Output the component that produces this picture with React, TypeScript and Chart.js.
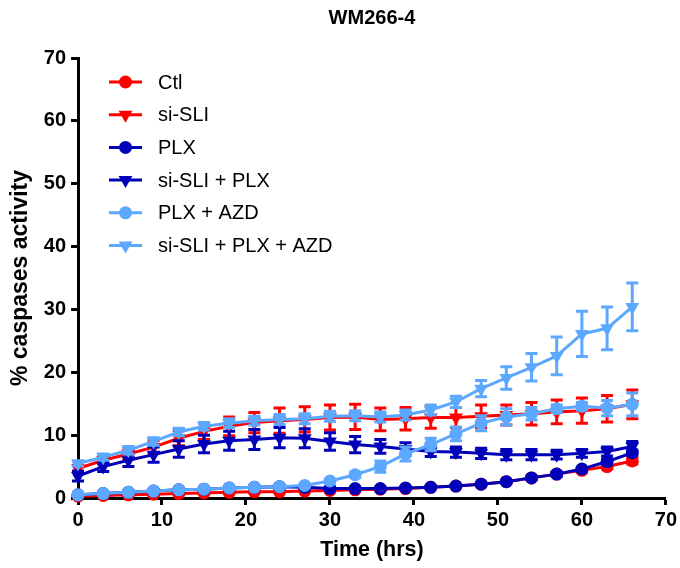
import React, { useEffect, useRef } from "react";
import { Chart, registerables } from "chart.js";

Chart.register(...registerables);

const hours = [0, 3, 6, 9, 12, 15, 18, 21, 24, 27, 30, 33, 36, 39, 42, 45, 48, 51, 54, 57, 60, 63, 66];

const ctl = [0.3, 0.4, 0.5, 0.6, 0.7, 0.8, 0.9, 1.0, 1.0, 1.1, 1.2, 1.3, 1.4, 1.5, 1.7, 1.9, 2.2, 2.6, 3.2, 3.8, 4.4, 5.0, 5.9];
const ctlErr = [0.1, 0.1, 0.1, 0.1, 0.1, 0.1, 0.1, 0.1, 0.1, 0.1, 0.1, 0.1, 0.1, 0.1, 0.1, 0.2, 0.2, 0.2, 0.2, 0.3, 0.3, 0.4, 0.5];

const siSli = [4.7, 6.0, 7.0, 8.1, 9.5, 10.6, 11.4, 12.0, 12.3, 12.5, 12.8, 12.9, 12.5, 12.6, 12.8, 12.8, 13.0, 13.2, 13.4, 13.7, 13.9, 14.2, 14.9];
const siSliErr = [0.5, 0.6, 0.8, 1.0, 1.2, 1.3, 1.5, 1.6, 2.0, 2.0, 2.0, 2.0, 1.8, 1.8, 1.7, 1.6, 1.8, 1.6, 1.8, 1.9, 2.0, 2.1, 2.3];

const plx = [0.5, 0.7, 0.9, 1.1, 1.3, 1.4, 1.6, 1.7, 1.8, 1.7, 1.5, 1.5, 1.5, 1.6, 1.7, 1.9, 2.2, 2.6, 3.2, 3.8, 4.6, 5.8, 7.2];
const plxErr = [0.2, 0.2, 0.2, 0.2, 0.2, 0.2, 0.2, 0.2, 0.2, 0.2, 0.2, 0.2, 0.2, 0.2, 0.2, 0.2, 0.2, 0.2, 0.3, 0.3, 0.3, 0.4, 0.4];

const siSliPlx = [3.5, 5.0, 6.0, 6.9, 7.8, 8.6, 9.1, 9.3, 9.6, 9.5, 9.0, 8.5, 8.2, 7.8, 7.4, 7.3, 7.1, 6.9, 6.9, 6.9, 7.1, 7.4, 8.2];
const siSliPlxErr = [0.8, 0.8, 1.0, 1.2, 1.3, 1.4, 1.5, 1.6, 1.6, 1.5, 1.4, 1.3, 1.1, 1.0, 0.8, 0.8, 0.8, 0.8, 0.8, 0.7, 0.6, 0.7, 0.8];

const plxAzd = [0.5, 0.7, 0.9, 1.1, 1.3, 1.4, 1.6, 1.7, 1.8, 2.0, 2.7, 3.7, 5.0, 7.0, 8.5, 10.2, 11.9, 12.9, 13.4, 14.2, 14.6, 14.3, 14.9];
const plxAzdErr = [0.1, 0.1, 0.1, 0.1, 0.1, 0.1, 0.1, 0.1, 0.1, 0.2, 0.3, 0.4, 0.9, 1.1, 1.0, 1.1, 1.2, 1.3, 1.0, 0.6, 0.6, 1.2, 1.8];

const siSliPlxAzd = [5.5, 6.5, 7.6, 9.0, 10.5, 11.4, 11.9, 12.3, 12.5, 12.6, 13.0, 13.1, 12.9, 13.2, 14.0, 15.3, 17.4, 19.1, 20.8, 22.6, 26.1, 27.0, 30.4];
const siSliPlxAzdErr = [0.4, 0.5, 0.6, 0.6, 0.6, 0.6, 0.7, 0.7, 0.8, 0.8, 0.8, 0.8, 0.8, 0.8, 0.8, 0.9, 1.3, 1.8, 2.2, 3.0, 3.6, 3.4, 3.8];

const seriesNames = ["Ctl", "si-SLI", "PLX", "si-SLI + PLX", "PLX + AZD", "si-SLI + PLX + AZD"];
const seriesValues = [ctl, siSli, plx, siSliPlx, plxAzd, siSliPlxAzd];
const seriesErrors = [ctlErr, siSliErr, plxErr, siSliPlxErr, plxAzdErr, siSliPlxAzdErr];
const seriesColors = ["#FF0000", "#FF0000", "#0000B8", "#0000B8", "#5CA8FF", "#5CA8FF"];
const seriesMarkers = ["circle", "triangle", "circle", "triangle", "circle", "triangle"];

const xTicks = [0, 10, 20, 30, 40, 50, 60, 70];
const yTicks = [0, 10, 20, 30, 40, 50, 60, 70];

const FONT = "'Liberation Sans', Arial, Helvetica, sans-serif";

function drawMarker(ctx: CanvasRenderingContext2D, kind: string, x: number, y: number, r: number) {
  ctx.beginPath();
  if (kind === "circle") {
    ctx.arc(x, y, r, 0, Math.PI * 2);
  } else {
    let rad = Math.PI;
    ctx.moveTo(x + Math.sin(rad) * r, y - Math.cos(rad) * r);
    rad += (2 * Math.PI) / 3;
    ctx.lineTo(x + Math.sin(rad) * r, y - Math.cos(rad) * r);
    rad += (2 * Math.PI) / 3;
    ctx.lineTo(x + Math.sin(rad) * r, y - Math.cos(rad) * r);
    ctx.closePath();
  }
  ctx.fill();
}

export default function App() {
  const ref = useRef<HTMLCanvasElement>(null);

  useEffect(() => {
    if (!ref.current) return;

    const errorBars = {
      id: "errorBars",
      beforeDatasetDraw(chart: any, args: any) {
        const ds = chart.data.datasets[args.index];
        const errs: number[] = ds.errors;
        if (!errs) return;
        const ctx = chart.ctx as CanvasRenderingContext2D;
        const xs = chart.scales.x;
        const ys = chart.scales.y;
        ctx.save();
        ctx.strokeStyle = ds.borderColor;
        ctx.lineWidth = 3;
        ds.data.forEach((p: any, i: number) => {
          const e = errs[i];
          if (!e) return;
          const px = xs.getPixelForValue(p.x);
          const top = ys.getPixelForValue(p.y + e);
          const bot = ys.getPixelForValue(p.y - e);
          ctx.beginPath();
          ctx.moveTo(px, top);
          ctx.lineTo(px, bot);
          ctx.moveTo(px - 6, top);
          ctx.lineTo(px + 6, top);
          ctx.moveTo(px - 6, bot);
          ctx.lineTo(px + 6, bot);
          ctx.stroke();
        });
        ctx.restore();
      },
    };

    const customLegend = {
      id: "customLegend",
      afterDraw(chart: any) {
        const ctx = chart.ctx as CanvasRenderingContext2D;
        ctx.save();
        seriesNames.forEach((name, i) => {
          const y = 82 + i * 32.7;
          ctx.strokeStyle = seriesColors[i];
          ctx.fillStyle = seriesColors[i];
          ctx.lineWidth = 3;
          ctx.beginPath();
          ctx.moveTo(109, y);
          ctx.lineTo(142, y);
          ctx.stroke();
          drawMarker(ctx, seriesMarkers[i], 125.5, y, seriesMarkers[i] === "circle" ? 6.5 : 8);
          ctx.fillStyle = "#000";
          ctx.font = `20px ${FONT}`;
          ctx.textBaseline = "middle";
          ctx.textAlign = "left";
          ctx.fillText(name, 158, y + 1);
        });
        ctx.restore();
      },
    };

    const n = seriesNames.length;
    const datasets = seriesNames.map((name, i) => ({
      label: name,
      data: hours.map((h, j) => ({ x: h, y: seriesValues[i][j] })),
      errors: seriesErrors[i],
      borderColor: seriesColors[i],
      backgroundColor: seriesColors[i],
      borderWidth: 3,
      pointStyle: seriesMarkers[i],
      pointRotation: seriesMarkers[i] === "triangle" ? 180 : 0,
      pointRadius: seriesMarkers[i] === "circle" ? 6.5 : 8,
      pointBorderWidth: 0,
      pointBackgroundColor: seriesColors[i],
      tension: 0,
      clip: false,
      order: n - 1 - i,
    }));

    const chart = new Chart(ref.current, {
      type: "line",
      data: { datasets } as any,
      plugins: [errorBars, customLegend],
      options: {
        animation: false,
        responsive: false,
        devicePixelRatio: 1,
        layout: { padding: { top: 0, right: 10, bottom: 0, left: 0 } },
        plugins: {
          legend: { display: false },
          tooltip: { enabled: false },
          title: {
            display: true,
            text: "WM266-4",
            color: "#000",
            fullSize: false,
            font: { family: FONT, size: 20, weight: "bold" },
            padding: { top: 6, bottom: 28 },
          },
        },
        scales: {
          x: {
            type: "linear",
            min: 0,
            max: 70,
            afterFit: (s: any) => {
              s.height = 70;
            },
            afterBuildTicks: (s: any) => {
              s.ticks = xTicks.map((v) => ({ value: v }));
            },
            ticks: {
              color: "#000",
              font: { family: FONT, size: 20, weight: "bold" },
              padding: 3,
              maxRotation: 0,
            },
            grid: {
              drawOnChartArea: false,
              drawTicks: true,
              tickLength: 7,
              tickWidth: 3,
              tickColor: "#000",
            },
            border: { color: "#000", width: 3 },
            title: {
              display: true,
              text: "Time (hrs)",
              color: "#000",
              font: { family: FONT, size: 21.5, weight: "bold" },
              padding: { top: 0, bottom: 5 },
            },
          },
          y: {
            type: "linear",
            min: 0,
            max: 70,
            afterFit: (s: any) => {
              s.width = 78;
            },
            afterBuildTicks: (s: any) => {
              s.ticks = yTicks.map((v) => ({ value: v }));
            },
            ticks: {
              color: "#000",
              font: { family: FONT, size: 20, weight: "bold" },
              padding: 5,
            },
            grid: {
              drawOnChartArea: false,
              drawTicks: true,
              tickLength: 7,
              tickWidth: 3,
              tickColor: "#000",
            },
            border: { color: "#000", width: 3 },
            title: {
              display: true,
              text: "% caspases activity",
              color: "#000",
              font: { family: FONT, size: 23, weight: "bold" },
              padding: { top: 7, bottom: 0 },
            },
          },
        },
      } as any,
    });

    return () => chart.destroy();
  }, []);

  return (
    <canvas
      ref={ref}
      width={680}
      height={568}
      style={{ position: "absolute", left: 0, top: 0, width: 680, height: 568 }}
    />
  );
}
